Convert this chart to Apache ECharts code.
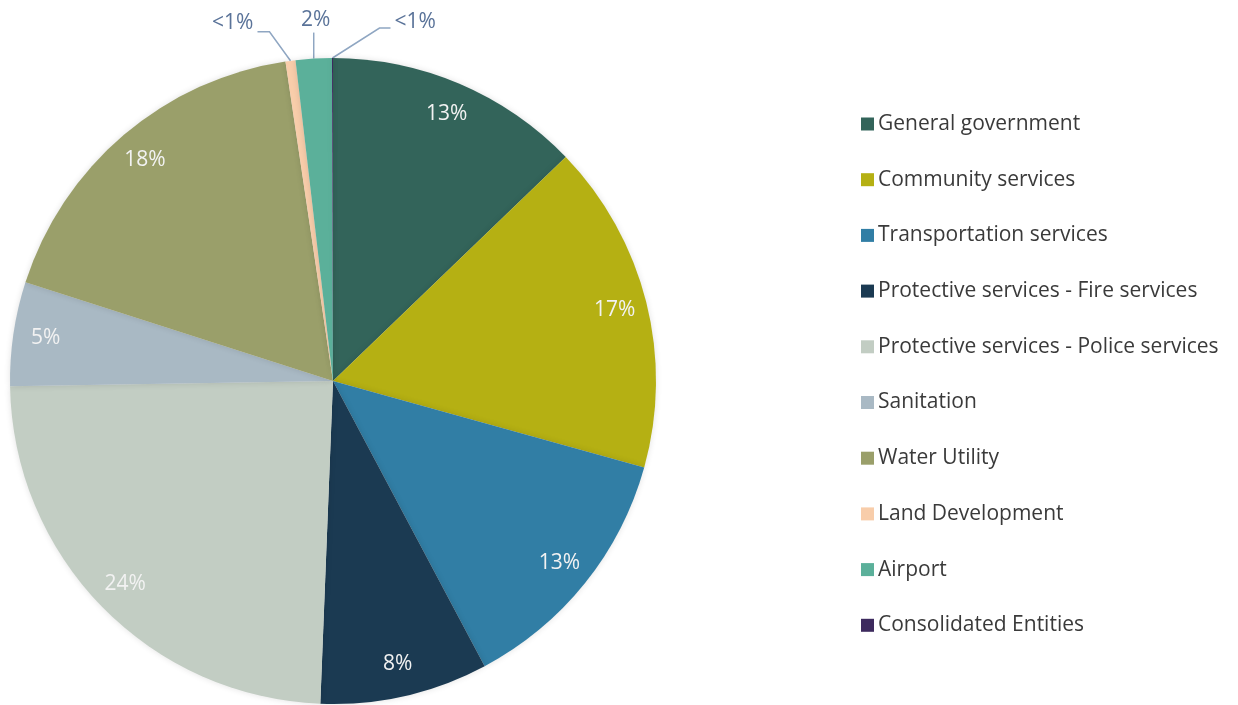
<!DOCTYPE html>
<html>
<head>
<meta charset="utf-8">
<script src="https://cdn.jsdelivr.net/npm/echarts@6/dist/echarts.min.js"></script>
<style>
  html, body { margin: 0; padding: 0; background: #fff; }
  #chart { width: 1238px; height: 705px; }
</style>
</head>
<body>
<div id="chart"></div>
<script>
var categories = [
  "General government",
  "Community services",
  "Transportation services",
  "Protective services - Fire services",
  "Protective services - Police services",
  "Sanitation",
  "Water Utility",
  "Land Development",
  "Airport",
  "Consolidated Entities"
];
var shares = [12.8, 16.5, 12.9, 8.4, 24.1, 5.2, 17.7, 0.5, 1.8, 0.05];
var colors = ["#33645a", "#b5b013", "#317ea5", "#1b3a52", "#c2cdc3",
  "#a9b9c4", "#9a9f6a", "#f8cdaa", "#5bb09a", "#3d2a5e"];

var mychart = echarts.init(document.getElementById("chart"));

var fmt = function (p) {
  return p.value < 1 ? "<1%" : Math.round(p.percent) + "%";
};

// main pie, small slices get outside labels with leader lines
var mainData = categories.map(function (name, i) {
  var small = shares[i] < 3;
  return {
    name: name,
    value: shares[i],
    itemStyle: { color: colors[i] },
    label: { show: small },
    labelLine: { show: small }
  };
});

// transparent ring only used to place the inside labels near the rim
var ringData = categories.map(function (name, i) {
  return {
    name: name,
    value: shares[i],
    label: { show: shares[i] >= 3 }
  };
});

var option = {
  animation: false,
  legend: {
    orient: "vertical",
    left: 856,
    top: 107,
    itemWidth: 13,
    itemHeight: 13,
    itemGap: 31.7,
    icon: "rect",
    data: categories,
    textStyle: {
      fontFamily: "Open Sans",
      fontSize: 21,
      lineHeight: 24,
      color: "#3a3a3a",
      padding: [0, 0, 0, -1]
    }
  },
  series: [
    {
      type: "pie",
      center: [333, 381],
      radius: [0, 323],
      startAngle: 90,
      clockwise: true,
      silent: true,
      itemStyle: { borderWidth: 0, shadowBlur: 6, shadowColor: "rgba(0,0,0,0.12)" },
      label: {
        position: "outside",
        formatter: fmt,
        fontFamily: "Open Sans",
        fontSize: 21,
        color: "#5a7399"
      },
      labelLine: {
        lineStyle: { color: "#8fa6c2", width: 1.5 }
      },
      labelLayout: function (params) {
        var pts = params.labelLinePoints;
        if (!pts) return;
        var s = pts[0];
        var i = params.dataIndex;
        if (i === 7) {
          return {
            x: s[0] - 37, y: s[1] - 38, align: "right", verticalAlign: "middle",
            labelLinePoints: [s, [s[0] - 21, s[1] - 29], [s[0] - 33, s[1] - 29]]
          };
        }
        if (i === 8) {
          return {
            x: s[0] + 2, y: s[1] - 39, align: "center", verticalAlign: "middle",
            labelLinePoints: [s, [s[0], s[1] - 15], [s[0], s[1] - 26]]
          };
        }
        if (i === 9) {
          return {
            x: s[0] + 62, y: s[1] - 36, align: "left", verticalAlign: "middle",
            labelLinePoints: [s, [s[0] + 47, s[1] - 30], [s[0] + 58, s[1] - 30]]
          };
        }
      },
      data: mainData
    },
    {
      type: "pie",
      center: [333, 381],
      radius: [252, 323],
      startAngle: 90,
      clockwise: true,
      silent: true,
      itemStyle: { color: "rgba(0,0,0,0)", borderWidth: 0 },
      label: {
        position: "inside",
        formatter: fmt,
        fontFamily: "Open Sans",
        fontSize: 21,
        color: "#f2f2f2"
      },
      labelLine: { show: false },
      data: ringData
    }
  ]
};
mychart.setOption(option, true);
</script>
</body>
</html>
